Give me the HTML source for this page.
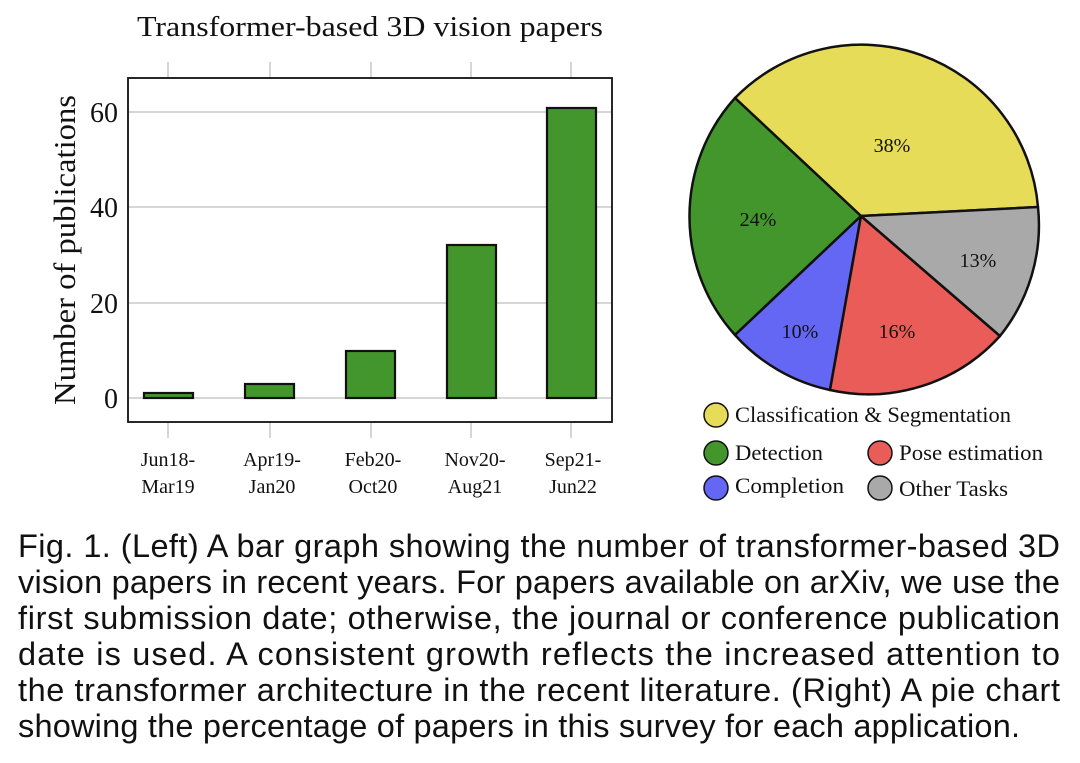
<!DOCTYPE html>
<html><head><meta charset="utf-8"><style>
html,body{margin:0;padding:0;background:#fff;}
svg{display:block}
</style></head><body>
<svg width="1080" height="763" viewBox="0 0 1080 763" xmlns="http://www.w3.org/2000/svg">
<rect width="1080" height="763" fill="#fff"/>
<g font-family="Liberation Serif, serif" fill="#111">
<text x="137" y="36" font-size="29" textLength="466" lengthAdjust="spacingAndGlyphs">Transformer-based 3D vision papers</text>
<g stroke="#c8c8c8" stroke-width="1.5">
<line x1="128" y1="398" x2="612" y2="398"/>
<line x1="128" y1="303" x2="612" y2="303"/>
<line x1="128" y1="207" x2="612" y2="207"/>
<line x1="128" y1="112" x2="612" y2="112"/>
<line x1="168" y1="62" x2="168" y2="78"/><line x1="270" y1="62" x2="270" y2="78"/><line x1="371" y1="62" x2="371" y2="78"/><line x1="471" y1="62" x2="471" y2="78"/><line x1="571" y1="62" x2="571" y2="78"/>
<line x1="168" y1="422" x2="168" y2="438"/><line x1="270" y1="422" x2="270" y2="438"/><line x1="371" y1="422" x2="371" y2="438"/><line x1="471" y1="422" x2="471" y2="438"/><line x1="571" y1="422" x2="571" y2="438"/>
</g>
<g fill="#43962c" stroke="#111" stroke-width="2.2">
<rect x="144" y="393" width="49" height="5"/>
<rect x="245" y="384" width="49" height="14"/>
<rect x="346" y="351" width="49" height="47"/>
<rect x="447" y="245" width="49" height="153"/>
<rect x="547" y="108" width="49" height="290"/>
</g>
<rect x="128" y="78" width="484" height="344" fill="none" stroke="#111" stroke-width="1.8"/>
<g font-size="28" text-anchor="end">
<text x="118" y="408">0</text><text x="118" y="313">20</text><text x="118" y="217">40</text><text x="118" y="122">60</text>
</g>
<text transform="translate(75,250) rotate(-90)" font-size="31" text-anchor="middle" textLength="310" lengthAdjust="spacingAndGlyphs">Number of publications</text>
<g font-size="20" text-anchor="middle">
<text x="168" y="466">Jun18-</text><text x="168" y="493">Mar19</text>
<text x="272" y="466">Apr19-</text><text x="272" y="493">Jan20</text>
<text x="373" y="466">Feb20-</text><text x="373" y="493">Oct20</text>
<text x="475" y="466">Nov20-</text><text x="475" y="493">Aug21</text>
<text x="573" y="466">Sep21-</text><text x="573" y="493">Jun22</text>
</g>
<g stroke="#111" stroke-width="2.5" stroke-linejoin="round">
<path d="M861,216 L1038,207 A177,177 0 0,0 735,98 Z" fill="#e6dc58"/>
<path d="M861,216 L735,98 A177,177 0 0,0 735,335 Z" fill="#43962c"/>
<path d="M861,216 L735,335 A177,177 0 0,0 830,390 Z" fill="#6467f4"/>
<path d="M861,216 L830,390 A177,177 0 0,0 1000,336 Z" fill="#ea5c57"/>
<path d="M861,216 L1000,336 A177,177 0 0,0 1038,207 Z" fill="#a9a9a9"/>
</g>
<g font-size="20" text-anchor="middle">
<text x="892" y="152">38%</text>
<text x="758" y="226">24%</text>
<text x="978" y="267">13%</text>
<text x="800" y="338">10%</text>
<text x="897" y="338">16%</text>
</g>
<g stroke="#111" stroke-width="1.5">
<circle cx="716" cy="415" r="12" fill="#e6dc58"/>
<circle cx="716" cy="453" r="12" fill="#43962c"/>
<circle cx="716" cy="488" r="12" fill="#6467f4"/>
<circle cx="880" cy="453" r="12" fill="#ea5c57"/>
<circle cx="880" cy="488" r="12" fill="#a9a9a9"/>
</g>
<g font-size="22">
<text x="735" y="422" textLength="276" lengthAdjust="spacingAndGlyphs">Classification &amp; Segmentation</text>
<text x="735" y="460" textLength="88" lengthAdjust="spacingAndGlyphs">Detection</text>
<text x="735" y="493" textLength="109" lengthAdjust="spacingAndGlyphs">Completion</text>
<text x="899" y="460" textLength="144" lengthAdjust="spacingAndGlyphs">Pose estimation</text>
<text x="899" y="496" textLength="109" lengthAdjust="spacingAndGlyphs">Other Tasks</text>
</g>
</g>
<g font-family="Liberation Sans, Arial, sans-serif" font-size="32.5" fill="#111">
<text x="18" y="557" textLength="1042" lengthAdjust="spacing">Fig. 1. (Left) A bar graph showing the number of transformer-based 3D</text>
<text x="18" y="593" textLength="1042" lengthAdjust="spacing">vision papers in recent years. For papers available on arXiv, we use the</text>
<text x="18" y="629" textLength="1042" lengthAdjust="spacing">first submission date; otherwise, the journal or conference publication</text>
<text x="18" y="665" textLength="1042" lengthAdjust="spacing">date is used. A consistent growth reflects the increased attention to</text>
<text x="18" y="701" textLength="1042" lengthAdjust="spacing">the transformer architecture in the recent literature. (Right) A pie chart</text>
<text x="18" y="737" textLength="1002" lengthAdjust="spacing">showing the percentage of papers in this survey for each application.</text>
</g>
</svg>
</body></html>
